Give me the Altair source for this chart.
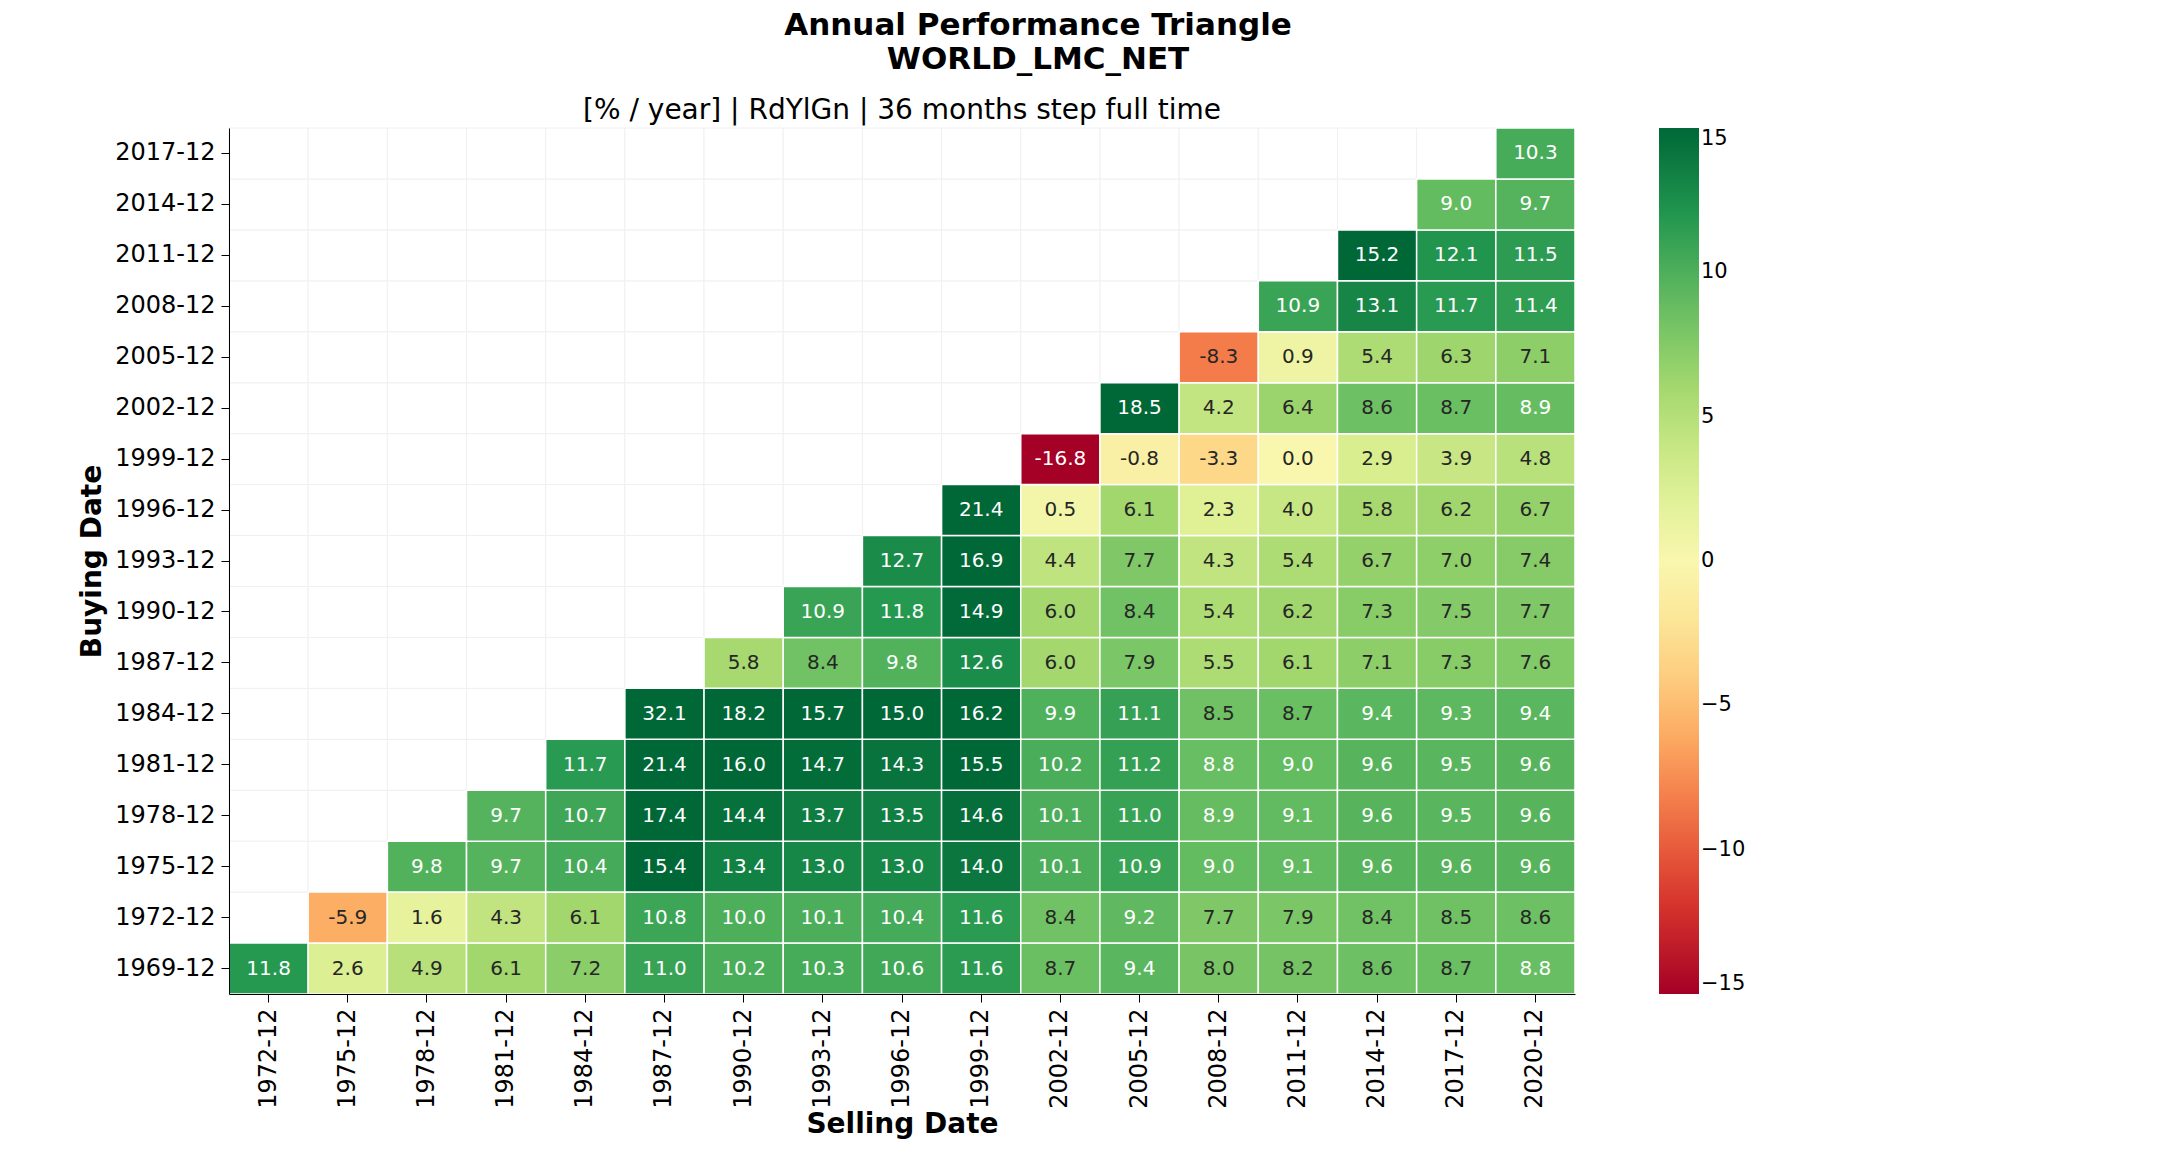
import altair as alt
import pandas as pd

buy_dates = ["1969-12", "1972-12", "1975-12", "1978-12", "1981-12", "1984-12",
             "1987-12", "1990-12", "1993-12", "1996-12", "1999-12", "2002-12",
             "2005-12", "2008-12", "2011-12", "2014-12", "2017-12"]
sell_dates = ["1972-12", "1975-12", "1978-12", "1981-12", "1984-12", "1987-12",
              "1990-12", "1993-12", "1996-12", "1999-12", "2002-12", "2005-12",
              "2008-12", "2011-12", "2014-12", "2017-12", "2020-12"]

# one list per buying date, starting at the diagonal
rows = [
    [11.8, 2.6, 4.9, 6.1, 7.2, 11.0, 10.2, 10.3, 10.6, 11.6, 8.7, 9.4, 8.0, 8.2, 8.6, 8.7, 8.8],
    [-5.9, 1.6, 4.3, 6.1, 10.8, 10.0, 10.1, 10.4, 11.6, 8.4, 9.2, 7.7, 7.9, 8.4, 8.5, 8.6],
    [9.8, 9.7, 10.4, 15.4, 13.4, 13.0, 13.0, 14.0, 10.1, 10.9, 9.0, 9.1, 9.6, 9.6, 9.6],
    [9.7, 10.7, 17.4, 14.4, 13.7, 13.5, 14.6, 10.1, 11.0, 8.9, 9.1, 9.6, 9.5, 9.6],
    [11.7, 21.4, 16.0, 14.7, 14.3, 15.5, 10.2, 11.2, 8.8, 9.0, 9.6, 9.5, 9.6],
    [32.1, 18.2, 15.7, 15.0, 16.2, 9.9, 11.1, 8.5, 8.7, 9.4, 9.3, 9.4],
    [5.8, 8.4, 9.8, 12.6, 6.0, 7.9, 5.5, 6.1, 7.1, 7.3, 7.6],
    [10.9, 11.8, 14.9, 6.0, 8.4, 5.4, 6.2, 7.3, 7.5, 7.7],
    [12.7, 16.9, 4.4, 7.7, 4.3, 5.4, 6.7, 7.0, 7.4],
    [21.4, 0.5, 6.1, 2.3, 4.0, 5.8, 6.2, 6.7],
    [-16.8, -0.8, -3.3, 0.0, 2.9, 3.9, 4.8],
    [18.5, 4.2, 6.4, 8.6, 8.7, 8.9],
    [-8.3, 0.9, 5.4, 6.3, 7.1],
    [10.9, 13.1, 11.7, 11.4],
    [15.2, 12.1, 11.5],
    [9.0, 9.7],
    [10.3],
]

recs = []
for i, (b, vals) in enumerate(zip(buy_dates, rows)):
    for j, v in enumerate(vals):
        recs.append({"buy": b, "sell": sell_dates[i + j], "v": v, "lbl": f"{v:.1f}"})
df = pd.DataFrame(recs)
grid_df = pd.DataFrame([{"buy": b, "sell": s} for b in buy_dates for s in sell_dates])

W, H = 1346, 866
FONT = "DejaVu Sans"

x = alt.X("sell:N", sort=sell_dates, title="Selling Date",
          axis=alt.Axis(labelAngle=270, labelFontSize=24, titleFontSize=28,
                        titleFontWeight="bold", labelColor="black", titleColor="black",
                        domainColor="black", tickColor="black", tickSize=8, labelPadding=6,
                        titlePadding=2))
y = alt.Y("buy:N", sort=buy_dates[::-1], title="Buying Date",
          axis=alt.Axis(labelFontSize=24, titleFontSize=28, titleFontWeight="bold",
                        labelColor="black", titleColor="black", domainColor="black",
                        tickColor="black", tickSize=8, labelPadding=6, titlePadding=8))

bg = alt.Chart(grid_df).mark_rect(fill="white", stroke="#f0f0f0", strokeWidth=1).encode(x=x, y=y)

cells = alt.Chart(df).mark_rect(stroke="white", strokeWidth=1.5).encode(
    x=x, y=y,
    color=alt.Color("v:Q", title=None,
                    scale=alt.Scale(scheme="redyellowgreen", domain=[-15, 15], clamp=True),
                    legend=alt.Legend(orient="right", gradientLength=H, gradientThickness=40,
                                      offset=84, values=[-15, -10, -5, 0, 5, 10, 15],
                                      labelFontSize=21, labelColor="black", tickCount=7,
                                      labelExpr="replace(datum.label, '-', '\u2212')")),
)

labels = alt.Chart(df).mark_text(fontSize=20, font=FONT).encode(
    x=x, y=y,
    text="lbl:N",
    color=alt.condition("abs(datum.v) > 8.75", alt.value("white"), alt.value("#262626")),
)

def title_text(txt, yy, size, weight, xx):
    return alt.Chart(pd.DataFrame({"t": [txt]})).mark_text(
        fontSize=size, fontWeight=weight, font=FONT, color="black").encode(
        text="t:N", x=alt.value(xx), y=alt.value(yy))

title1 = title_text("Annual Performance Triangle", -102, 31, "bold", W / 2 + 136)
title2 = title_text("WORLD_LMC_NET", -68, 31, "bold", W / 2 + 136)
subtitle = title_text("[% / year] | RdYlGn | 36 months step full time", -17, 28, "normal", W / 2)

chart = alt.layer(bg, cells, labels, title1, title2, subtitle).properties(
    width=W, height=H,
    padding={"left": 70, "top": 2, "right": 5, "bottom": 2},
).configure(font=FONT).configure_view(stroke=None).configure_axis(grid=False)

chart.save("out.html", embed_options={"renderer": "svg", "actions": False})
